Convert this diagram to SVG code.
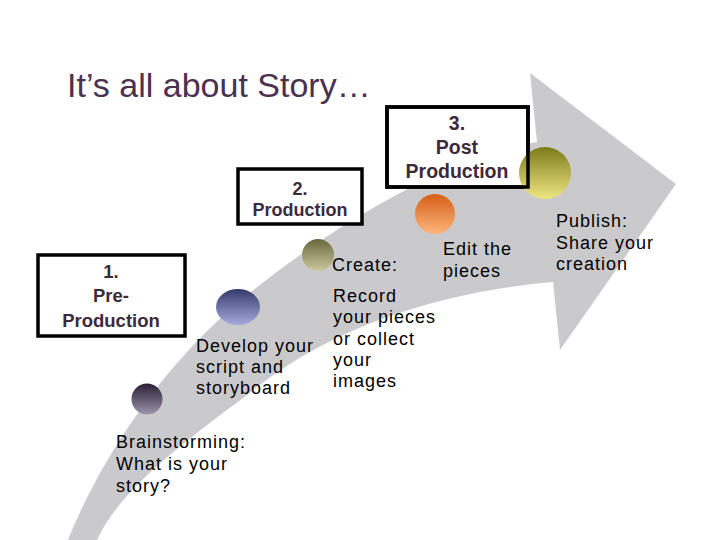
<svg xmlns="http://www.w3.org/2000/svg" width="720" height="540" viewBox="0 0 720 540">
<style>
.title{font-family:"Liberation Sans",Arial,sans-serif;font-size:34px;fill:#4b3050}
.box{fill:#ffffff;stroke:#000000;stroke-width:3.5}
.frame{fill:none;stroke:#000000;stroke-width:3.5}
.bt{font-family:"Liberation Sans",Arial,sans-serif;font-weight:bold;font-size:18.5px;fill:#3c2a3c;text-anchor:middle}
.t{font-family:"Liberation Sans",Arial,sans-serif;font-size:18px;letter-spacing:1px;fill:#000000}
.arrow{fill:#cacacd}
</style>
<defs>
<linearGradient id="g1" x1="0" y1="0" x2="0" y2="1"><stop offset="0" stop-color="#2a1e34"/><stop offset="1" stop-color="#9d95ab"/></linearGradient>
<linearGradient id="g2" x1="0" y1="0" x2="0" y2="1"><stop offset="0" stop-color="#353a6c"/><stop offset="1" stop-color="#a6aadc"/></linearGradient>
<linearGradient id="g3" x1="0" y1="0" x2="0" y2="1"><stop offset="0" stop-color="#68683c"/><stop offset="1" stop-color="#cbc99c"/></linearGradient>
<linearGradient id="g4" x1="0" y1="0" x2="0" y2="1"><stop offset="0" stop-color="#d65e16"/><stop offset="1" stop-color="#fcb67e"/></linearGradient>
<linearGradient id="g5" x1="0" y1="0" x2="0" y2="1"><stop offset="0" stop-color="#7c7c1a"/><stop offset="1" stop-color="#efe682"/></linearGradient>
</defs>
<rect width="720" height="540" fill="#ffffff"/>
<text class="title" x="67" y="97">It’s all about Story…</text>
<g id="connectors">
<path class="arrow" d="M68,540 C100,460 160,370 233,307 C330,224 455,155 537,142 L530,73 L676,184 L560,350 L553,282 C460,290 340,318 247,395 C180,445 120,490 97,540 Z"/>
</g>
<g id="box1">
<rect class="box" x="38" y="255" width="147" height="81"/>
<text class="bt" x="111" y="278">1.</text>
<text class="bt" x="111" y="302">Pre-</text>
<text class="bt" x="111" y="327">Production</text>
</g>
<g id="box2">
<rect class="box" x="238" y="169" width="124" height="55"/>
<text class="bt" x="300" y="195" style="font-size:18px">2.</text>
<text class="bt" x="300" y="216" style="font-size:18px">Production</text>
</g>
<g id="box3">
<rect class="box" x="387" y="107" width="141" height="80"/>
<text class="bt" x="457" y="130" style="font-size:19.5px">3.</text>
<text class="bt" x="457" y="154" style="font-size:19.5px">Post</text>
<text class="bt" x="457" y="178" style="font-size:19.5px">Production</text>
</g>
<g id="step1">
<circle cx="147" cy="399" r="15.5" fill="url(#g1)"/>
<text class="t" x="116" y="448">Brainstorming:</text>
<text class="t" x="116" y="470">What is your</text>
<text class="t" x="116" y="492">story?</text>
</g>
<g id="step2">
<ellipse cx="238" cy="307" rx="22" ry="18" fill="url(#g2)"/>
<text class="t" x="196" y="352">Develop your</text>
<text class="t" x="196" y="373">script and</text>
<text class="t" x="196" y="394">storyboard</text>
</g>
<g id="step3">
<circle cx="318" cy="255" r="16" fill="url(#g3)"/>
<text class="t" x="332" y="271">Create:</text>
<text class="t" x="333" y="302">Record</text>
<text class="t" x="333" y="323">your pieces</text>
<text class="t" x="333" y="345">or collect</text>
<text class="t" x="333" y="366">your</text>
<text class="t" x="333" y="387">images</text>
</g>
<g id="step4">
<circle cx="435" cy="214" r="20" fill="url(#g4)"/>
<text class="t" x="443" y="255">Edit the</text>
<text class="t" x="443" y="277">pieces</text>
</g>
<g id="step5">
<circle cx="545" cy="173" r="26" fill="url(#g5)"/>
<text class="t" x="556" y="227">Publish:</text>
<text class="t" x="556" y="249">Share your</text>
<text class="t" x="556" y="270">creation</text>
</g>
<g id="box3-frame">
<rect class="frame" x="387" y="107" width="141" height="80"/>
</g>
</svg>
